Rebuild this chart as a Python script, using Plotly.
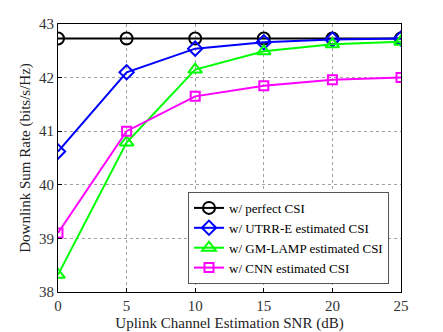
import plotly.graph_objects as go

# datos
snr = [0, 5, 10, 15, 20, 25]
perfect = [42.73, 42.73, 42.73, 42.73, 42.73, 42.73]
utrr_e = [40.62, 42.10, 42.54, 42.66, 42.71, 42.73]
gm_lamp = [38.32, 40.79, 42.15, 42.49, 42.62, 42.67]
cnn = [39.10, 41.00, 41.65, 41.85, 41.96, 42.00]

series = [
    ("w/ perfect CSI", perfect, "black", "circle-open", 12),
    ("w/ UTRR-E estimated CSI", utrr_e, "#0000ff", "diamond-open", 11),
    ("w/ GM-LAMP estimated CSI", gm_lamp, "#00ff00", "triangle-up-open", 12),
    ("w/ CNN estimated CSI", cnn, "#ff00ff", "square-open", 9),
]

fig = go.Figure()
for name, y, color, symbol, size in series:
    fig.add_trace(go.Scatter(
        x=snr, y=y, name=name, mode="lines+markers",
        line=dict(color=color, width=2),
        marker=dict(symbol=symbol, size=size, color=color, line=dict(width=2, color=color)),
    ))

axis_style = dict(
    showline=True, linecolor="black", linewidth=1, mirror=True,
    ticks="inside", ticklen=4, tickcolor="black", automargin=False,
    showgrid=True, gridcolor="#a0a0a0", griddash="dot", gridwidth=1,
    zeroline=False, tickfont=dict(size=15, color="#333333"),
)

fig.update_xaxes(range=[0, 25], dtick=5,
                 title=dict(text="Uplink Channel Estimation SNR (dB)", font=dict(size=15), standoff=4),
                 **axis_style)
fig.update_yaxes(range=[38, 43], dtick=1,
                 title=dict(text="Downlink Sum Rate (bits/s/Hz)", font=dict(size=15), standoff=4),
                 **axis_style)

# la pagina deja 8 px de margen arriba y a la izquierda
fig.update_layout(
    width=435, height=324,
    margin=dict(l=50, r=42, t=16, b=40),
    plot_bgcolor="white", paper_bgcolor="white",
    font=dict(family="Liberation Serif", color="#222222"),
    legend=dict(x=0.965, y=0.03, xanchor="right", yanchor="bottom",
                bgcolor="white", bordercolor="#555555", borderwidth=1,
                font=dict(size=13, color="black"), tracegroupgap=0, itemwidth=30),
)

fig.write_html("out.html")
